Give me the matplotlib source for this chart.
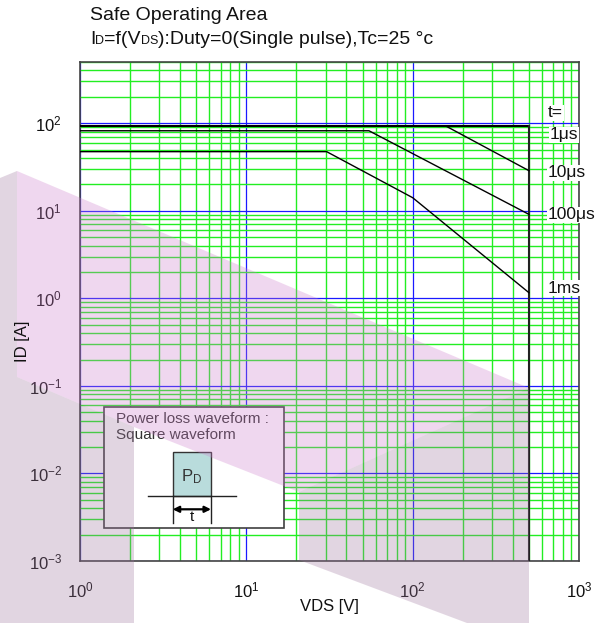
import numpy as np
import matplotlib
matplotlib.use('Agg')
import matplotlib.pyplot as plt
from matplotlib.patches import Polygon, Rectangle
from matplotlib.ticker import LogLocator, NullFormatter, LogFormatterSciNotation
from matplotlib.offsetbox import TextArea, HPacker, AnnotationBbox

plt.rcParams['font.family'] = ['Liberation Sans', 'DejaVu Sans']
plt.rcParams['mathtext.fontset'] = 'custom'
plt.rcParams['mathtext.rm'] = 'Liberation Sans'
plt.rcParams['mathtext.it'] = 'Liberation Sans:italic'
plt.rcParams['mathtext.bf'] = 'Liberation Sans:bold'

# ---------------- data ----------------
v_1us = [1, 500]
i_1us = [93, 93]
v_10us = [158, 500]
i_10us = [93, 28.7]
v_100us = [1, 54.6, 500]
i_100us = [82, 82, 9.1]
v_1ms = [1, 30.4, 100, 500]
i_1ms = [47.3, 47.3, 14.1, 1.16]
v_dss = 500
curve_labels = ['t=', '1μs', '10μs', '100μs', '1ms']
x_lim = (1, 1000)
y_lim = (1e-3, 500)

# ---------------- layout ----------------
W, H, DPI = 602, 623, 100
L, R, T, B = 80, 579, 62, 561
label_x = [650, 670, 650, 650, 650]
label_y = [131, 73.5, 27, 8.95, 1.31]

fig = plt.figure(figsize=(W / DPI, H / DPI), dpi=DPI)
fig.patch.set_facecolor('white')
ax = fig.add_axes([L / W, 1 - B / H, (R - L) / W, (B - T) / H])
ax.set_facecolor('white')
ax.set_xscale('log')
ax.set_yscale('log')
ax.set_xlim(*x_lim)
ax.set_ylim(*y_lim)

for axis in (ax.xaxis, ax.yaxis):
    axis.set_major_locator(LogLocator(base=10, numticks=20))
    axis.set_minor_locator(LogLocator(base=10, subs=np.arange(2, 10), numticks=100))
    axis.set_minor_formatter(NullFormatter())
    axis.set_major_formatter(LogFormatterSciNotation())
ax.tick_params(which='both', length=0)
ax.tick_params(axis='x', which='major', pad=14, labelsize=12, labelcolor='#111111')
ax.tick_params(axis='y', which='major', pad=13, labelsize=12, labelcolor='#111111')

ax.grid(which='minor', color='#22ee22', lw=1.0, zorder=1)
ax.grid(which='major', color='#1a1aff', lw=0.9, zorder=1.5)
ax.set_axisbelow(True)
for s in ax.spines.values():
    s.set_color('#444444')
    s.set_linewidth(1.2)

# curves
ax.plot(v_1us, i_1us, color='black', lw=1.5, zorder=3)
ax.plot([v_dss, v_dss], [i_1us[-1], y_lim[0]], color='#222222', lw=1.5, zorder=3)
ax.plot(v_10us, i_10us, color='black', lw=1.0, zorder=3)
ax.plot(v_100us, i_100us, color='black', lw=1.0, zorder=3)
ax.plot(v_1ms, i_1ms, color='black', lw=1.0, zorder=3)

for txt, xv, yv in zip(curve_labels, label_x, label_y):
    ax.text(xv, yv, txt, fontsize=12.5, ha='left', va='center', color='#111111',
            zorder=4, bbox=dict(facecolor='white', edgecolor='none', pad=0.6))

fig.text(22 / W, 1 - 341 / H, 'ID [A]', rotation=90, ha='center', va='center',
         fontsize=12, color='#111111')
fig.text(329 / W, 1 - 607 / H, 'VDS [V]', ha='center', va='center',
         fontsize=12, color='#111111')

# title
fig.text(90 / W, 1 - 15 / H, 'Safe Operating Area', ha='left', va='center',
         fontsize=14, color='#111111')
big = dict(fontsize=14, color='#111111')
small = dict(fontsize=9, color='#111111')
parts = [TextArea('I', textprops=big), TextArea('D', textprops=small),
         TextArea('=f(V', textprops=big), TextArea('DS', textprops=small),
         TextArea('):Duty=0(Single pulse),Tc=25 °c', textprops=big)]
pack = HPacker(children=parts, align='baseline', pad=0, sep=0)
ab = AnnotationBbox(pack, (90, H - 39), xycoords='figure pixels',
                    box_alignment=(0, 0.5), frameon=False)
fig.add_artist(ab)

# overlay (pixel coordinates, y down)
ov = fig.add_axes([0, 0, 1, 1])
ov.set_xlim(0, W)
ov.set_ylim(H, 0)
ov.axis('off')
ov.patch.set_alpha(0)

ov.add_patch(Rectangle((104.3, 407.3), 180, 120.4, facecolor='white',
                       edgecolor='#404040', lw=1.2, zorder=2))
ov.text(116, 419, 'Power loss waveform :', fontsize=11, color='#333333',
        ha='left', va='center', zorder=3)
ov.text(116, 435, 'Square waveform', fontsize=11, color='#333333',
        ha='left', va='center', zorder=3)
ov.add_patch(Rectangle((172.7, 451.7), 38.3, 44.3, facecolor='#b9dcdc',
                       edgecolor='#333333', lw=1.0, zorder=3))
ov.plot([147.7, 236], [496, 496], color='#222222', lw=1.0, zorder=3)
ov.plot([172.7, 172.7], [496, 522.7], color='#222222', lw=1.0, zorder=3)
ov.plot([211, 211], [496, 522.7], color='#222222', lw=1.0, zorder=3)
ov.annotate('', xy=(211, 509.3), xytext=(172.7, 509.3),
            arrowprops=dict(arrowstyle='<|-|>', color='black', lw=1.6,
                            mutation_scale=9, shrinkA=0, shrinkB=0), zorder=3)
ov.text(192, 517, 't', fontsize=11, ha='center', va='center', color='#111111', zorder=3)
ov.text(192, 477, r'P$_{\mathregular{D}}$', fontsize=12, ha='center', va='center',
        color='#333333', zorder=3)

# watermark (semi transparent overlay)
a = 0.3
def wm(target):
    t = np.array(matplotlib.colors.to_rgb(target))
    return tuple(np.clip((t - (1 - a)) / a, 0, 1))
pink = wm('#f0d8ef')
gray = wm('#e2d6e2')
ov.add_patch(Polygon([(17, 171), (529, 388), (299, 492), (134, 427), (17, 377)],
                     closed=True, facecolor=pink, edgecolor='none', alpha=a, zorder=5))
ov.add_patch(Polygon([(0, 178), (17, 171), (17, 377), (134, 427), (134, 623), (0, 623)],
                     closed=True, facecolor=gray, edgecolor='none', alpha=a, zorder=5))
ov.add_patch(Polygon([(299, 492), (529, 388), (529, 623), (467, 623), (299, 560)],
                     closed=True, facecolor=gray, edgecolor='none', alpha=a, zorder=5))

fig.savefig('out.png', dpi=DPI)
